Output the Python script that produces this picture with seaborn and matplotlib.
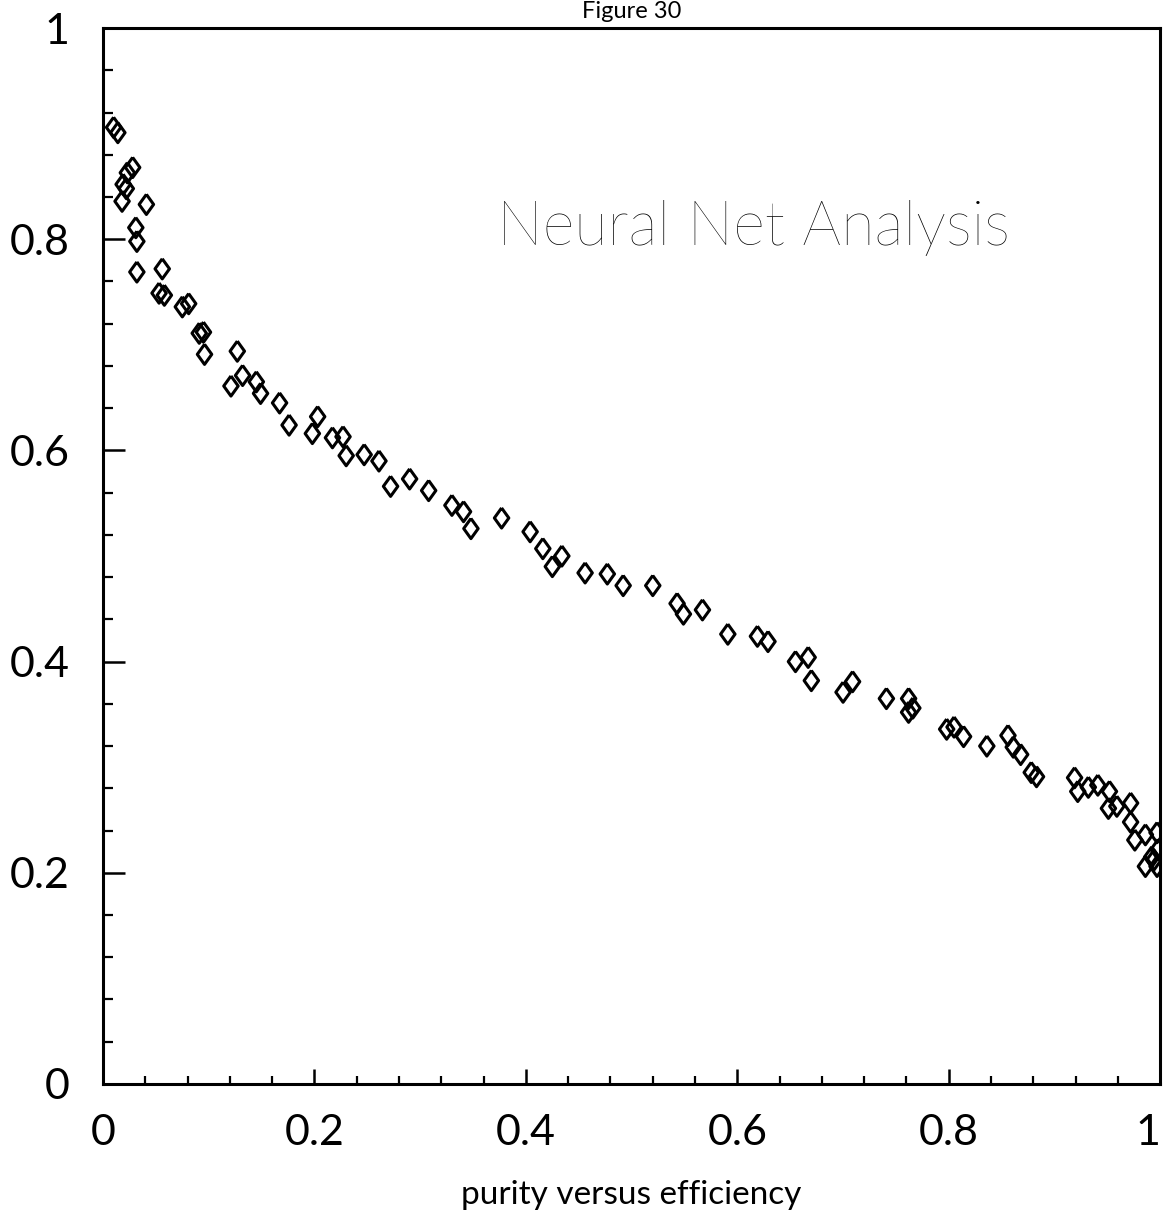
import numpy as np
import pandas as pd
import matplotlib
matplotlib.use("Agg")
import matplotlib.pyplot as plt
from matplotlib.ticker import MultipleLocator
import seaborn as sns

efficiency = [0.010, 0.014, 0.028, 0.023, 0.019, 0.022, 0.018, 0.041, 0.031, 0.032,
              0.032, 0.056, 0.053, 0.058, 0.075, 0.081, 0.091, 0.095, 0.096, 0.127,
              0.132, 0.121, 0.145, 0.149, 0.167, 0.176, 0.203, 0.198, 0.217, 0.227,
              0.230, 0.247, 0.261, 0.272, 0.290, 0.308, 0.330, 0.341, 0.348, 0.377,
              0.404, 0.416, 0.425, 0.434, 0.456, 0.477, 0.492, 0.520, 0.543, 0.549,
              0.567, 0.591, 0.619, 0.629, 0.655, 0.667, 0.670, 0.700, 0.709, 0.741,
              0.762, 0.762, 0.766, 0.798, 0.805, 0.814, 0.836, 0.856, 0.861, 0.868,
              0.878, 0.883, 0.919, 0.922, 0.932, 0.941, 0.952, 0.951, 0.959, 0.972,
              0.972, 0.976, 0.986, 0.997, 0.986, 0.992, 0.997, 0.998, 0.994]
purity = [0.906, 0.901, 0.868, 0.863, 0.852, 0.848, 0.836, 0.833, 0.811, 0.798,
          0.769, 0.772, 0.749, 0.747, 0.736, 0.739, 0.711, 0.712, 0.691, 0.694,
          0.671, 0.661, 0.665, 0.654, 0.645, 0.624, 0.632, 0.616, 0.612, 0.613,
          0.595, 0.596, 0.590, 0.566, 0.573, 0.562, 0.548, 0.542, 0.526, 0.536,
          0.523, 0.507, 0.490, 0.500, 0.484, 0.483, 0.472, 0.472, 0.455, 0.445,
          0.449, 0.426, 0.424, 0.419, 0.400, 0.404, 0.382, 0.371, 0.381, 0.365,
          0.365, 0.352, 0.356, 0.336, 0.338, 0.329, 0.320, 0.330, 0.319, 0.312,
          0.295, 0.291, 0.290, 0.277, 0.281, 0.283, 0.277, 0.261, 0.263, 0.266,
          0.248, 0.231, 0.236, 0.238, 0.206, 0.215, 0.206, 0.222, 0.212]

tick_values = [0, 0.2, 0.4, 0.6, 0.8, 1]
tick_labels = ["0", "0.2", "0.4", "0.6", "0.8", "1"]

df = pd.DataFrame({"efficiency": efficiency, "purity": purity})

sns.set_style("white")
plt.rcParams["font.family"] = ["Lato", "DejaVu Sans"]
plt.rcParams["text.color"] = "black"
plt.rcParams["axes.labelcolor"] = "black"
plt.rcParams["xtick.color"] = "black"
plt.rcParams["ytick.color"] = "black"

fig = plt.figure(figsize=(11.63, 12.22), dpi=100)
ax = fig.add_axes([0.0886, 0.113, 0.909, 0.864])

diamond = [(0, 1), (0.72, 0), (0, -1), (-0.72, 0), (0, 1)]
sns.scatterplot(data=df, x="efficiency", y="purity", ax=ax, marker=diamond,
                s=210, facecolor="none", edgecolor="black", linewidth=2.2,
                legend=False)

ax.set_xlim(0, 1)
ax.set_ylim(0, 1)
ax.set_xticks(tick_values)
ax.set_xticklabels(tick_labels)
ax.set_yticks(tick_values)
ax.set_yticklabels(tick_labels)
ax.xaxis.set_minor_locator(MultipleLocator(0.04))
ax.yaxis.set_minor_locator(MultipleLocator(0.04))

for sp in ax.spines.values():
    sp.set_visible(True)
    sp.set_color("black")
    sp.set_linewidth(2.2)

ax.tick_params(axis="x", which="major", direction="in", length=11, width=1.8,
               labelsize=31, pad=22, bottom=True, top=False, labelcolor="black")
ax.tick_params(axis="x", which="minor", direction="in", length=6, width=1.6,
               bottom=True, top=False)
ax.tick_params(axis="y", which="major", direction="in", length=16, width=1.8,
               labelsize=31, pad=24, left=True, right=False, labelcolor="black")
ax.tick_params(axis="y", which="minor", direction="in", length=7, width=1.6,
               left=True, right=False)
for lab in ax.get_xticklabels() + ax.get_yticklabels():
    lab.set_fontweight("normal")
ax.get_xticklabels()[-1].set_horizontalalignment("right")

ax.set_xlabel("purity versus efficiency", fontsize=24, labelpad=20,
              color="black", fontweight="normal")
ax.set_ylabel("")

ax.text(0.373, 0.795, "Neural Net Analysis", fontsize=44, fontweight="light",
        color="black", ha="left", va="baseline", transform=ax.transData)

fig.text(0.543, 0.999, "Figure 30", fontsize=17, ha="center", va="top",
         color="black", fontweight="normal")

fig.savefig("out.png", dpi=100, facecolor="white")
